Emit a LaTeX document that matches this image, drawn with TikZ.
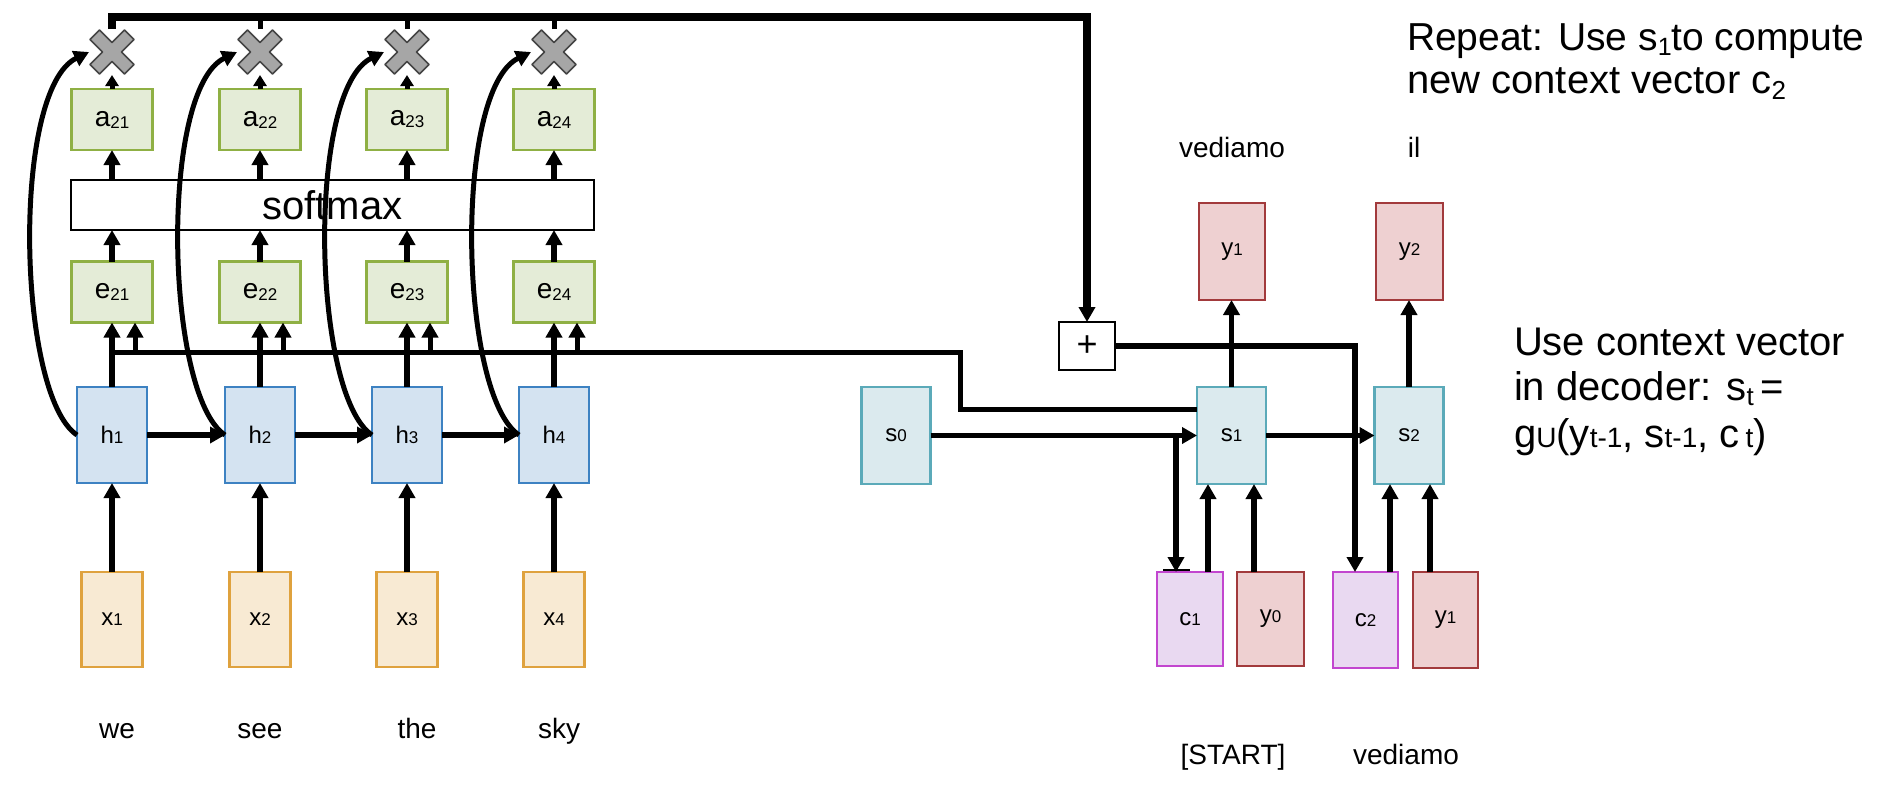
\documentclass[tikz,border=0pt]{standalone}
\usepackage{fontspec}
\setmainfont{Liberation Sans}
\usetikzlibrary{arrows.meta,calc}
\definecolor{gfill}{HTML}{E4ECD7}
\definecolor{gdraw}{HTML}{8FB044}
\definecolor{hfill}{HTML}{D4E3F1}
\definecolor{hdraw}{HTML}{3D82C2}
\definecolor{xfill}{HTML}{F8EAD3}
\definecolor{xdraw}{HTML}{DFA23E}
\definecolor{sfill}{HTML}{DBEAEE}
\definecolor{sdraw}{HTML}{5BAAB9}
\definecolor{yfill}{HTML}{EED0D1}
\definecolor{ydraw}{HTML}{A23A3C}
\definecolor{cfill}{HTML}{E9D9F1}
\definecolor{cdraw}{HTML}{C246CF}
\definecolor{xgray}{HTML}{A6A6A6}
\definecolor{xdark}{HTML}{454545}
\newcommand\boxlbl[2]{{\fontsize{24}{24}\selectfont #1{\fontsize{17}{17}\selectfont #2}}}
\newcommand\boxlblo[2]{{\fontsize{28}{28}\selectfont #1\raisebox{-2pt}{\fontsize{17}{17}\selectfont #2}}}
\begin{document}
\begin{tikzpicture}[x=1pt,y=-1pt,
  every node/.style={inner sep=0pt, outer sep=0pt},
  gbox/.style={draw=gdraw, fill=gfill, line width=2.5pt, minimum width=81pt, minimum height=61pt},
  hbox/.style={draw=hdraw, fill=hfill, line width=2.5pt, minimum width=70pt, minimum height=96pt},
  xbox/.style={draw=xdraw, fill=xfill, line width=2.5pt, minimum width=61pt, minimum height=95pt},
  sbox/.style={draw=sdraw, fill=sfill, line width=2.5pt, minimum width=69pt, minimum height=97pt},
  ybox/.style={draw=ydraw, fill=yfill, line width=2.5pt, minimum width=66pt, minimum height=97pt},
  cbox/.style={draw=cdraw, fill=cfill, line width=2.5pt, minimum width=65pt, minimum height=95pt},
  arr/.style={line width=5.5pt, -{Triangle[length=15pt,width=16pt]}},
  arrs/.style={line width=5pt, -{Triangle[length=11pt,width=13pt]}},
  ln/.style={line width=5.5pt},
  word/.style={font=\fontsize{28}{28}\selectfont, anchor=base},
  side/.style={font=\fontsize{40}{40}\selectfont, anchor=base west},
  crossmark/.style={draw=xdark, fill=xgray, line width=1.5pt, line join=round}
]
\useasboundingbox (0,0) rectangle (1895,793);

% ---------- encoder ----------
\foreach \i/\c in {1/112,2/260,3/407,4/554} {
  \node[gbox] (a\i) at (\c,119.5) {\boxlblo{a}{2\i}};
  \node[gbox] (e\i) at (\c,292) {\boxlblo{e}{2\i}};
  \node[hbox] (h\i) at (\c,435) {\boxlbl{h}{\i}};
  \node[xbox] (x\i) at (\c,619.5) {\boxlbl{x}{\i}};
  \node[minimum size=46pt] (cr\i) at (\c,52) {};
}
\foreach \i in {1,...,4} {
  \draw[crossmark, shift={(cr\i.center)}]
    (9.5,0) -- (22,12.5) -- (12.5,22) -- (0,9.5) -- (-12.5,22) -- (-22,12.5) -- (-9.5,0)
    -- (-22,-12.5) -- (-12.5,-22) -- (0,-9.5) -- (12.5,-22) -- (22,-12.5) -- cycle;
}
\node[draw, line width=2pt, fill=white, minimum width=523pt, minimum height=50pt] (sm) at (332.5,205) {\fontsize{40}{40}\selectfont softmax};

\node[word] (w1) at (117,738) {we};
\node[word] (w2) at (260,738) {see};
\node[word] (w3) at (417,738) {the};
\node[word] (w4) at (559,738) {sky};

% ---------- decoder ----------
\node[sbox] (s0) at (896,435.5) {\boxlbl{s}{0}};
\node[sbox] (s1) at (1231.5,435.5) {\boxlbl{s}{1}};
\node[sbox] (s2) at (1409,435.5) {\boxlbl{s}{2}};
\node[ybox] (yo1) at (1232,251.5) {\boxlbl{y}{1}};
\node[ybox, minimum width=67pt] (yo2) at (1409.5,251.5) {\boxlbl{y}{2}};
\node[cbox, minimum width=66pt, minimum height=94pt] (c1) at (1190,619) {\boxlbl{c}{1}};
\node[ybox, minimum width=67pt, minimum height=94pt] (y0) at (1270.5,619) {\boxlbl{y}{0}};
\node[cbox, minimum height=96pt] (c2) at (1365.5,620) {\boxlbl{c}{2}};
\node[ybox, minimum width=65pt, minimum height=96pt] (yi1) at (1445.5,620) {\boxlbl{y}{1}};
\node[draw, line width=2.5pt, fill=white, minimum width=56pt, minimum height=48pt] (plus) at (1087,346) {\fontsize{36}{36}\selectfont +};

\node[word] (tv) at (1232,157) {vediamo};
\node[word] (til) at (1414,157) {il};
\node[word] (bst) at (1233,764) {[START]};
\node[word] (bve) at (1406,764) {vediamo};

\node[side, font=\fontsize{39}{39}\selectfont] (r1) at (1407,50) {Repeat: Use s\raisebox{-5pt}{\fontsize{25}{25}\selectfont 1}to compute};
\node[side] (r2) at (1407,93) {new context vector c\raisebox{-6pt}{\fontsize{26}{26}\selectfont 2}};
\node[side] (u1) at (1514,355) {Use context vector};
\node[side] (u2) at (1514,400) {in decoder: s\raisebox{-5pt}{\fontsize{26}{26}\selectfont t}\hspace{7pt}=};
\node[side] (u3) at (1514,447) {g{\fontsize{28}{28}\selectfont U}(y{\fontsize{28}{28}\selectfont t-1}, s{\fontsize{28}{28}\selectfont t-1}, c\hspace{6pt}{\fontsize{28}{28}\selectfont t})};

% ---------- encoder connectors ----------
\foreach \i in {1,...,4} {
  \draw[arr] (x\i) -- (h\i);
  \draw[arr] (h\i) -- (e\i);
  \draw[arr] (e\i.north) -- (e\i.north |- sm.south);
  \draw[arr] (a\i.south |- sm.north) -- (a\i.south);
  \draw[arrs] (a\i) -- (cr\i);
  \draw[arr, line width=5pt] (h\i.west) .. controls +(-60,-40) and +(-78,38) .. (cr\i.west);
}
\foreach \i/\j in {1/2,2/3,3/4} {
  \draw[arr, line width=6.5pt] (h\i) -- (h\j);
}
% wire from hidden states to decoder
\coordinate (w0) at (112,352);
\coordinate (wa) at (960,352);
\coordinate (wb) at (960,409);
\draw[ln, line width=5pt] (w0) -- (wa) -- (wb) -- (wb -| s1.west);
\foreach \i in {1,...,4} {
  \draw[arr, line width=5pt] ($(e\i.south)+(23,30)$) -- ($(e\i.south)+(23,0)$);
}
% top wire from weighted states to +
\coordinate (tw) at (1087,17);
\foreach \i in {2,3,4} {
  \draw[ln, line width=5pt] (cr\i.north) -- (cr\i.north |- tw);
}
\draw[arr, line width=7.5pt] (cr1.north) |- (tw) -- (plus.north);

% ---------- decoder connectors ----------
\draw[arr] (s0) -- (s1);
\draw[arr] (s1) -- (s2);
\draw[arr] (s1.north) -- (s1.north |- yo1.south);
\draw[arr] (s2.north) -- (s2.north |- yo2.south);
\coordinate (cj) at (1176,435.5);
\draw[arr] (cj) -- (cj |- c1.north);
\draw[line width=2pt] ($(c1.north)+(-27,-2)$) -- ($(c1.north)+(0,-2)$);
\coordinate (c1a) at ($(c1.north)+(18,0)$);
\coordinate (y0a) at ($(y0.north)+(-16.5,0)$);
\coordinate (c2a) at ($(c2.north)+(24.5,0)$);
\coordinate (y1a) at ($(yi1.north)+(-15.5,0)$);
\draw[arr] (c1a) -- (c1a |- s1.south);
\draw[arr] (y0a) -- (y0a |- s1.south);
\draw[arr] (c2a) -- (c2a |- s2.south);
\draw[arr] (y1a) -- (y1a |- s2.south);
\coordinate (pc) at (1355,346);
\draw[arr] (plus.east) -- (pc) -- (pc |- c2.north);
\end{tikzpicture}
\end{document}
